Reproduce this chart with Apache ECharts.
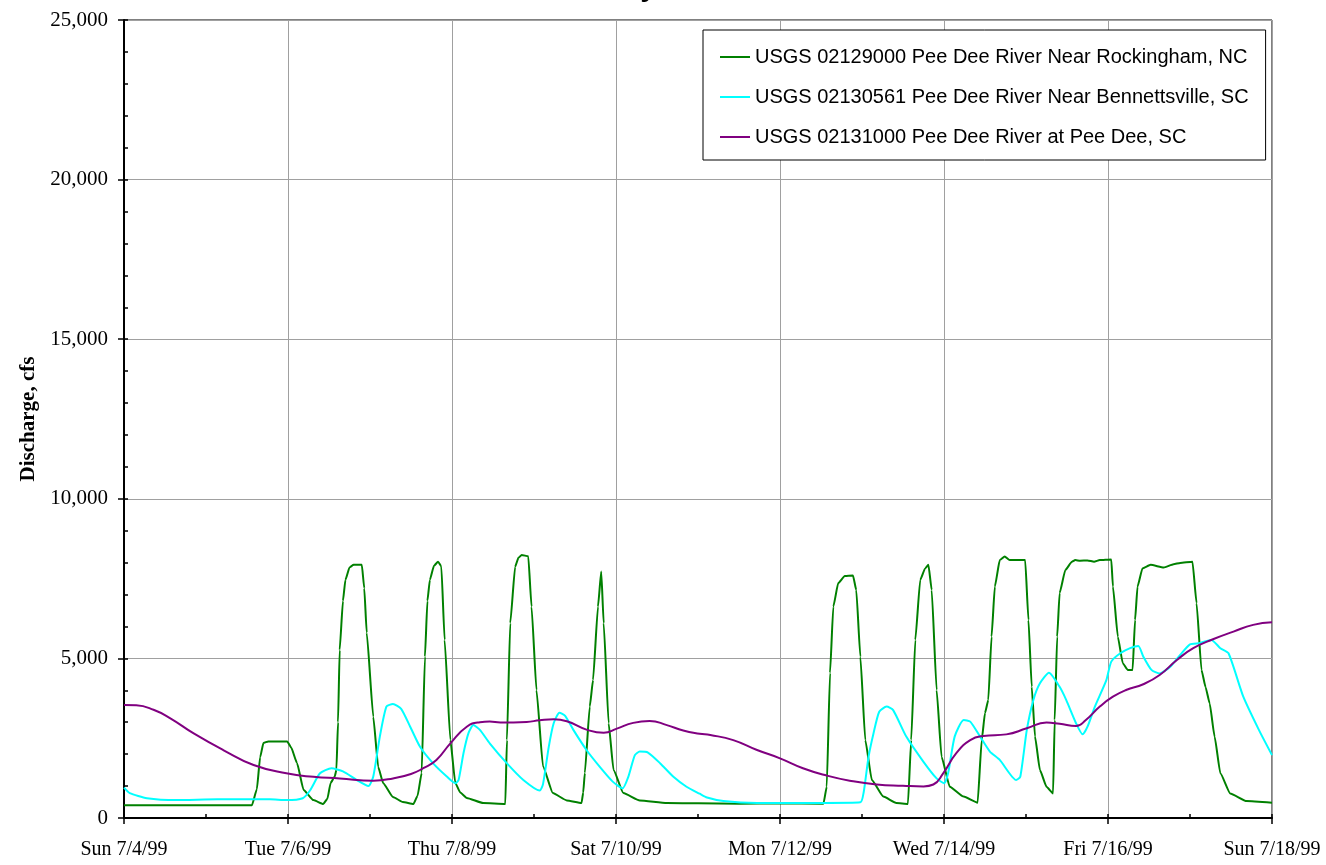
<!DOCTYPE html>
<html><head><meta charset="utf-8">
<script src="https://cdn.jsdelivr.net/npm/echarts@6/dist/echarts.min.js"></script>
<style>html,body{margin:0;padding:0;background:#fff}#c{width:1326px;height:865px}</style>
</head><body><div id="c"></div>
<script>
// x values are days since Sun 7/4/99 00:00
const xTickLabels = ['Sun 7/4/99','Tue 7/6/99','Thu 7/8/99','Sat 7/10/99','Mon 7/12/99','Wed 7/14/99','Fri 7/16/99','Sun 7/18/99'];
const seriesNames = ['USGS 02129000 Pee Dee River Near Rockingham, NC','USGS 02130561 Pee Dee River Near Bennettsville, SC','USGS 02131000 Pee Dee River at Pee Dee, SC'];

const rockT = [0,1.56,1.62,1.66,1.70,1.76,1.99,2.04,2.11,2.19,2.31,2.43,2.48,2.52,2.57,2.59,2.61,2.63,2.67,2.70,2.75,2.80,2.90,2.93,2.96,3.04,3.10,3.16,3.28,3.40,3.53,3.58,3.63,3.67,3.70,3.73,3.78,3.83,3.87,3.91,3.98,4.04,4.10,4.18,4.38,4.65,4.67,4.71,4.77,4.81,4.85,4.93,4.97,5.03,5.11,5.23,5.40,5.58,5.60,5.62,5.68,5.72,5.78,5.82,5.85,5.91,5.97,6.09,6.29,6.62,7.0,7.5,8.0,8.53,8.57,8.61,8.65,8.71,8.79,8.89,8.93,8.98,9.04,9.12,9.26,9.42,9.56,9.60,9.65,9.71,9.77,9.81,9.85,9.91,9.97,10.07,10.24,10.41,10.46,10.50,10.54,10.58,10.62,10.68,10.74,10.80,10.99,11.03,11.07,11.11,11.17,11.25,11.33,11.35,11.38,11.41,11.48,11.56,11.60,11.66,11.75,11.83,11.90,12.04,12.06,12.12,12.18,12.24,12.30,12.33,12.36,12.42,12.52,12.68,12.80,12.88,13.03,13.08,13.14,13.19,13.24,13.30,13.37,13.49,13.69,14.0];
const rockV = [400,400,900,1900,2350,2400,2400,2200,1720,880,560,440,600,1100,1300,1500,3000,5260,6800,7460,7850,7930,7930,7200,5800,3170,1600,1100,660,500,440,700,1410,5050,6800,7460,7900,8030,7880,5580,2440,1100,800,630,470,440,2440,6100,7870,8150,8240,8200,6620,4010,1610,780,550,470,800,1410,3490,4320,6620,7720,6100,2970,1500,780,550,470,460,450,460,450,980,4540,6620,7360,7580,7600,7140,5050,2440,1190,670,470,440,2440,5580,7460,7820,7930,7140,4010,1920,980,670,480,2440,3290,3700,5680,7250,8080,8190,8080,8080,6200,4110,2550,1500,980,770,3070,5680,7050,7770,8030,8080,8060,8070,8030,8080,8100,7250,5680,4850,4640,4640,6200,7250,7820,7930,7850,7950,7990,8030,6730,4640,4100,3590,2550,1400,770,530,480];

const bennT = [0,0.07,0.28,0.64,1.14,1.78,1.98,2.18,2.27,2.39,2.53,2.67,2.84,2.98,3.04,3.12,3.20,3.28,3.38,3.49,3.61,3.77,3.94,4.04,4.08,4.14,4.20,4.26,4.34,4.46,4.67,4.87,5.07,5.11,5.18,5.24,5.31,5.38,5.48,5.64,5.80,5.96,6.08,6.15,6.23,6.29,6.39,6.54,6.70,6.86,7.02,7.11,7.31,7.72,8.53,8.98,9.02,9.08,9.14,9.21,9.30,9.38,9.54,9.75,9.91,10.00,10.05,10.13,10.24,10.32,10.44,10.56,10.68,10.88,10.93,11.01,11.09,11.17,11.28,11.41,11.49,11.61,11.69,11.75,11.84,11.98,12.04,12.15,12.27,12.37,12.43,12.53,12.63,12.76,12.88,13.00,13.12,13.26,13.37,13.47,13.65,13.84,14.0];
const bennV = [950,780,620,560,590,590,560,620,870,1400,1560,1460,1190,1000,1300,2550,3490,3570,3420,2860,2230,1710,1290,1090,1190,2030,2650,2910,2760,2340,1710,1190,860,1060,2230,2970,3300,3200,2760,2130,1610,1140,930,1290,1970,2080,2050,1710,1290,980,760,640,530,470,470,490,800,1920,2650,3330,3490,3380,2550,1760,1240,1090,1400,2550,3070,3020,2550,2080,1820,1190,1290,2760,3700,4220,4550,4110,3700,2970,2620,2860,3490,4320,4900,5160,5320,5390,5060,4640,4530,4740,5110,5440,5480,5580,5320,5160,3800,2760,1970];

const peeT = [0,0.15,0.36,0.56,0.85,1.21,1.58,1.98,2.31,2.63,3.04,3.28,3.50,3.65,3.81,3.98,4.18,4.34,4.46,4.59,4.91,5.07,5.24,5.40,5.64,5.85,6.01,6.21,6.41,6.62,6.82,7.02,7.15,7.43,7.72,8.0,8.28,8.57,8.85,9.18,9.50,9.75,9.87,9.99,10.15,10.32,10.48,10.76,11.01,11.25,11.41,11.61,11.73,11.90,12.06,12.22,12.43,12.63,12.84,13.04,13.28,13.53,13.77,14.0];
const peeV = [3540,3530,3390,3130,2650,2130,1660,1400,1290,1240,1170,1240,1380,1560,1820,2340,2860,3000,3020,2990,3010,3060,3090,3030,2770,2670,2800,2980,3040,2910,2740,2640,2600,2440,2130,1870,1560,1330,1170,1050,1010,990,1050,1400,2030,2440,2570,2620,2810,2990,2950,2880,3070,3490,3800,4010,4190,4480,4950,5320,5600,5840,6050,6130];

const pair = (t, v) => t.map((x, i) => [x, v[i]]);
const serif = 'Liberation Serif';
const sans = 'Liberation Sans';
const grid = {left: 124, right: 54, top: 20, bottom: 47, show: true, borderColor: '#000', borderWidth: 1};

const chart = echarts.init(document.getElementById('c'), null, {renderer: 'canvas'});
chart.setOption({
  animation: false,
  backgroundColor: '#fff',
  title: {
    text: 'July', left: 588, top: -38,
    textStyle: {fontFamily: serif, fontWeight: 'bold', fontSize: 36, color: '#000'}
  },
  grid: grid,
  legend: {
    orient: 'vertical', left: 703, top: 30,
    backgroundColor: '#fff', borderColor: '#000', borderWidth: 1,
    padding: [17, 17, 13, 17], itemGap: 20, itemWidth: 30, itemHeight: 2, icon: 'rect',
    textStyle: {fontFamily: sans, fontSize: 20, color: '#000'},
    data: seriesNames
  },
  xAxis: [{
    type: 'value', min: 0, max: 14, interval: 2,
    axisLine: {lineStyle: {color: '#000', width: 2}},
    axisTick: {show: true, inside: true, length: 4, lineStyle: {color: '#000', width: 1.5}},
    minorTick: {show: true, splitNumber: 2, length: 4, lineStyle: {color: '#000', width: 1.5}},
    splitLine: {show: true, lineStyle: {color: '#a0a0a0', width: 1}},
    axisLabel: {
      margin: 22, fontFamily: serif, fontSize: 20, color: '#000',
      formatter: v => xTickLabels[Math.round(v / 2)] || ''
    }
  }, {
    type: 'value', min: 0, max: 14, interval: 2, position: 'bottom',
    axisLine: {show: false}, splitLine: {show: false}, axisLabel: {show: false},
    axisTick: {show: true, inside: false, length: 6, lineStyle: {color: '#000', width: 1.5}}
  }],
  yAxis: [{
    type: 'value', min: 0, max: 25000, interval: 5000,
    name: 'Discharge, cfs', nameLocation: 'middle', nameGap: 82, nameRotate: 90,
    nameTextStyle: {fontFamily: serif, fontWeight: 'bold', fontSize: 21, color: '#000'},
    axisLine: {show: true, lineStyle: {color: '#000', width: 2}},
    axisTick: {show: true, inside: true, length: 4, lineStyle: {color: '#000', width: 1.5}},
    minorTick: {show: true, splitNumber: 5, length: 4, lineStyle: {color: '#000', width: 1.5}},
    splitLine: {show: true, lineStyle: {color: '#a0a0a0', width: 1}},
    axisLabel: {
      margin: 16, fontFamily: serif, fontSize: 21, color: '#000',
      formatter: v => v.toLocaleString('en-US')
    }
  }, {
    type: 'value', min: 0, max: 25000, interval: 5000, position: 'left',
    axisLine: {show: false}, splitLine: {show: false}, axisLabel: {show: false},
    axisTick: {show: true, inside: false, length: 6, lineStyle: {color: '#000', width: 1.5}}
  }],
  series: [
    {name: seriesNames[0], type: 'line', data: pair(rockT, rockV), symbol: 'none', smooth: 0.15, smoothMonotone: 'x',
     lineStyle: {color: '#008000', width: 2}, itemStyle: {color: '#008000'}},
    {name: seriesNames[1], type: 'line', data: pair(bennT, bennV), symbol: 'none', smooth: 0.2,
     lineStyle: {color: '#00FFFF', width: 2}, itemStyle: {color: '#00FFFF'}},
    {name: seriesNames[2], type: 'line', data: pair(peeT, peeV), symbol: 'none', smooth: 0.5,
     lineStyle: {color: '#800080', width: 2}, itemStyle: {color: '#800080'}}
  ]
});
</script></body></html>
